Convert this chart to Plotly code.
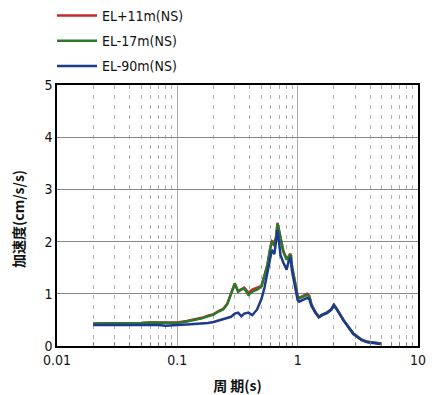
import plotly.graph_objects as go

periods = [0.02, 0.03, 0.04, 0.05, 0.06, 0.07, 0.08, 0.09, 0.1, 0.12, 0.14, 0.16, 0.18, 0.2,
           0.22, 0.24, 0.26, 0.28, 0.30, 0.32, 0.34, 0.36, 0.39, 0.42, 0.46, 0.50, 0.53, 0.56,
           0.59, 0.61, 0.64, 0.66, 0.68, 0.70, 0.72, 0.76, 0.81, 0.84, 0.87, 0.90, 0.95, 1.0,
           1.03, 1.1, 1.2, 1.25, 1.3, 1.4, 1.5, 1.6, 1.75, 1.9, 2.0, 2.1, 2.4, 2.9, 3.4, 3.8,
           4.3, 4.9]

el_p11 = [0.43, 0.43, 0.44, 0.44, 0.45, 0.45, 0.44, 0.44, 0.45, 0.48, 0.51, 0.54, 0.58, 0.61,
          0.67, 0.71, 0.81, 1.01, 1.20, 1.05, 1.09, 1.12, 1.02, 1.08, 1.12, 1.15, 1.35, 1.55,
          1.86, 2.01, 1.98, 2.07, 2.36, 2.21, 2.06, 1.82, 1.66, 1.73, 1.77, 1.51, 1.21, 0.96,
          0.92, 0.96, 1.00, 0.96, 0.80, 0.65, 0.56, 0.60, 0.64, 0.70, 0.79, 0.72, 0.50, 0.24,
          0.12, 0.08, 0.06, 0.05]

el_m17 = [0.43, 0.43, 0.44, 0.44, 0.45, 0.45, 0.44, 0.44, 0.44, 0.47, 0.50, 0.53, 0.57, 0.60,
          0.66, 0.70, 0.80, 1.00, 1.19, 1.04, 1.08, 1.10, 0.98, 1.04, 1.08, 1.14, 1.35, 1.55,
          1.85, 2.00, 1.92, 2.05, 2.34, 2.20, 2.05, 1.81, 1.65, 1.72, 1.76, 1.50, 1.20, 0.95,
          0.91, 0.94, 0.98, 0.95, 0.80, 0.65, 0.56, 0.60, 0.64, 0.70, 0.79, 0.72, 0.50, 0.24,
          0.12, 0.08, 0.06, 0.05]

el_m90 = [0.40, 0.40, 0.40, 0.41, 0.40, 0.40, 0.39, 0.39, 0.40, 0.41, 0.42, 0.43, 0.44, 0.46,
          0.49, 0.51, 0.53, 0.56, 0.62, 0.64, 0.57, 0.62, 0.64, 0.59, 0.70, 0.90, 1.12, 1.40,
          1.70, 1.84, 1.76, 1.95, 2.22, 2.00, 1.74, 1.60, 1.46, 1.62, 1.70, 1.42, 1.12, 0.88,
          0.85, 0.88, 0.92, 0.90, 0.77, 0.64, 0.55, 0.59, 0.63, 0.69, 0.78, 0.71, 0.49, 0.23,
          0.11, 0.07, 0.05, 0.04]

series_names = ["EL+11m(NS)", "EL-17m(NS)", "EL-90m(NS)"]
series_colors = ["#c8282c", "#2b7a2b", "#1c3a8e"]

x_ticks = [0.01, 0.1, 1, 10]
x_tick_labels = ["0.01", "0.1", "1", "10"]
x_minor_ticks = [0.02, 0.03, 0.04, 0.05, 0.06, 0.07, 0.08, 0.09,
                 0.2, 0.3, 0.4, 0.5, 0.6, 0.7, 0.8, 0.9,
                 2, 3, 4, 5, 6, 7, 8, 9]
y_ticks = [0, 1, 2, 3, 4, 5]

x_title = "周 期(s)"
y_title = "加速度(cm/s/s)"

fig = go.Figure()
for i, (name, vals, col) in enumerate(zip(series_names, [el_p11, el_m17, el_m90], series_colors)):
    fig.add_trace(go.Scatter(x=periods, y=vals, mode="lines", name=name,
                             legendgroup=f"g{i}",
                             line=dict(color=col, width=2.5)))

font_fam = "Liberation Sans Narrow, DejaVu Sans Condensed, Liberation Sans, sans-serif"
cjk_fam = "Noto Sans CJK JP"

fig.update_layout(
    width=439, height=395,
    margin=dict(l=57, r=21, t=85, b=49, autoexpand=False),
    paper_bgcolor="white", plot_bgcolor="white",
    font=dict(family=font_fam, size=14, color="#111"),
    showlegend=True,
    legend=dict(x=52 / 439, y=1.0203, xanchor="left", yanchor="top",
                xref="container", yref="container", itemwidth=40,
                font=dict(size=14, family=font_fam),
                tracegroupgap=4, bgcolor="rgba(0,0,0,0)"),
    xaxis=dict(type="log", range=[-2, 1], tickvals=x_ticks, ticktext=x_tick_labels,
               showline=True, linecolor="black", linewidth=1.5, mirror=True,
               showgrid=True, gridcolor="#aaaaaa", gridwidth=1, automargin=False,
               ticks="", zeroline=False, ticklabelstandoff=0,
               minor=dict(tickvals=x_minor_ticks, showgrid=True, griddash="4px,6px",
                          gridcolor="#b0b0b0", gridwidth=1, ticks="inside",
                          ticklen=4, tickcolor="#888"),
               title=dict(text=x_title, font=dict(size=14, family=cjk_fam, weight="bold")),
               tickfont=dict(size=14)),
    yaxis=dict(range=[0, 5], tickvals=y_ticks, automargin=False,
               showline=True, linecolor="black", linewidth=1.5, mirror=True,
               showgrid=True, gridcolor="#888888", gridwidth=1, zeroline=False,
               ticks="", tickfont=dict(size=14)),
    annotations=[dict(text=y_title, textangle=-90, showarrow=False,
                      xref="paper", yref="paper", x=(18 - 57) / 361, y=(346 - 219) / 261,
                      xanchor="center", yanchor="middle",
                      font=dict(size=14, family=cjk_fam, weight="bold", color="#111"))],
)

fig.write_html("out.html", post_script="document.body.style.margin='0';",
               config={"displayModeBar": False})
